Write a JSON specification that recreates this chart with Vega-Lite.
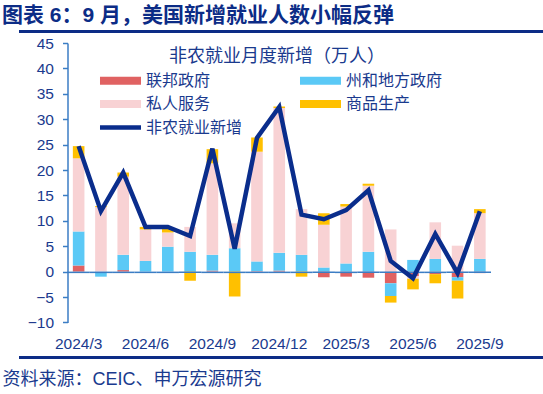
{
  "$schema": "https://vega.github.io/schema/vega-lite/v6.json",
  "width": 423.5,
  "height": 279.4,
  "autosize": {"type": "none"},
  "padding": {"left": 67.5, "top": 43, "right": 52, "bottom": 71.6},
  "background": "white",
  "config": {"view": {"stroke": null}, "font": "Liberation Sans, Noto Sans CJK SC"},
  "title": {
    "text": "图表 6：9 月，美国新增就业人数小幅反弹",
    "anchor": "start",
    "frame": "group",
    "dx": -65.5,
    "font": "Liberation Sans, Noto Sans CJK SC",
    "fontSize": 21,
    "fontWeight": "bold",
    "color": "#0c2c86",
    "offset": 10
  },
  "datasets": {
    "bars": [
      {"month": "2024/3", "sector": "联邦政府", "k": 1, "value": 1.2},
      {"month": "2024/3", "sector": "州和地方政府", "k": 2, "value": 6.7},
      {"month": "2024/3", "sector": "私人服务", "k": 3, "value": 14.4},
      {"month": "2024/3", "sector": "商品生产", "k": 4, "value": 2.4},
      {"month": "2024/4", "sector": "联邦政府", "k": 1, "value": 0.0},
      {"month": "2024/4", "sector": "州和地方政府", "k": 2, "value": -1.0},
      {"month": "2024/4", "sector": "私人服务", "k": 3, "value": 12.7},
      {"month": "2024/4", "sector": "商品生产", "k": 4, "value": 0.2},
      {"month": "2024/5", "sector": "联邦政府", "k": 1, "value": 0.3},
      {"month": "2024/5", "sector": "州和地方政府", "k": 2, "value": 3.0},
      {"month": "2024/5", "sector": "私人服务", "k": 3, "value": 15.4},
      {"month": "2024/5", "sector": "商品生产", "k": 4, "value": 0.8},
      {"month": "2024/6", "sector": "联邦政府", "k": 1, "value": 0.0},
      {"month": "2024/6", "sector": "州和地方政府", "k": 2, "value": 2.1},
      {"month": "2024/6", "sector": "私人服务", "k": 3, "value": 6.2},
      {"month": "2024/6", "sector": "商品生产", "k": 4, "value": 0.5},
      {"month": "2024/7", "sector": "联邦政府", "k": 1, "value": 0.0},
      {"month": "2024/7", "sector": "州和地方政府", "k": 2, "value": 4.9},
      {"month": "2024/7", "sector": "私人服务", "k": 3, "value": 2.8},
      {"month": "2024/7", "sector": "商品生产", "k": 4, "value": 0.8},
      {"month": "2024/8", "sector": "联邦政府", "k": 1, "value": 0.0},
      {"month": "2024/8", "sector": "州和地方政府", "k": 2, "value": 3.9},
      {"month": "2024/8", "sector": "私人服务", "k": 3, "value": 4.9},
      {"month": "2024/8", "sector": "商品生产", "k": 4, "value": -1.8},
      {"month": "2024/9", "sector": "联邦政府", "k": 1, "value": 0.2},
      {"month": "2024/9", "sector": "州和地方政府", "k": 2, "value": 3.1},
      {"month": "2024/9", "sector": "私人服务", "k": 3, "value": 18.0},
      {"month": "2024/9", "sector": "商品生产", "k": 4, "value": 2.8},
      {"month": "2024/10", "sector": "联邦政府", "k": 1, "value": 0.0},
      {"month": "2024/10", "sector": "州和地方政府", "k": 2, "value": 4.6},
      {"month": "2024/10", "sector": "私人服务", "k": 3, "value": 4.9},
      {"month": "2024/10", "sector": "商品生产", "k": 4, "value": -4.9},
      {"month": "2024/11", "sector": "联邦政府", "k": 1, "value": 0.1},
      {"month": "2024/11", "sector": "州和地方政府", "k": 2, "value": 1.9},
      {"month": "2024/11", "sector": "私人服务", "k": 3, "value": 21.6},
      {"month": "2024/11", "sector": "商品生产", "k": 4, "value": 2.8},
      {"month": "2024/12", "sector": "联邦政府", "k": 1, "value": 0.2},
      {"month": "2024/12", "sector": "州和地方政府", "k": 2, "value": 3.5},
      {"month": "2024/12", "sector": "私人服务", "k": 3, "value": 28.5},
      {"month": "2024/12", "sector": "商品生产", "k": 4, "value": 0.3},
      {"month": "2025/1", "sector": "联邦政府", "k": 1, "value": 0.0},
      {"month": "2025/1", "sector": "州和地方政府", "k": 2, "value": 3.3},
      {"month": "2025/1", "sector": "私人服务", "k": 3, "value": 9.0},
      {"month": "2025/1", "sector": "商品生产", "k": 4, "value": -1.0},
      {"month": "2025/2", "sector": "联邦政府", "k": 1, "value": -1.1},
      {"month": "2025/2", "sector": "州和地方政府", "k": 2, "value": 0.8},
      {"month": "2025/2", "sector": "私人服务", "k": 3, "value": 8.4},
      {"month": "2025/2", "sector": "商品生产", "k": 4, "value": 2.3},
      {"month": "2025/3", "sector": "联邦政府", "k": 1, "value": -1.0},
      {"month": "2025/3", "sector": "州和地方政府", "k": 2, "value": 1.6},
      {"month": "2025/3", "sector": "私人服务", "k": 3, "value": 11.2},
      {"month": "2025/3", "sector": "商品生产", "k": 4, "value": 0.5},
      {"month": "2025/4", "sector": "联邦政府", "k": 1, "value": -1.2},
      {"month": "2025/4", "sector": "州和地方政府", "k": 2, "value": 3.9},
      {"month": "2025/4", "sector": "私人服务", "k": 3, "value": 13.0},
      {"month": "2025/4", "sector": "商品生产", "k": 4, "value": 0.4},
      {"month": "2025/5", "sector": "联邦政府", "k": 1, "value": -2.3},
      {"month": "2025/5", "sector": "州和地方政府", "k": 2, "value": -2.5},
      {"month": "2025/5", "sector": "私人服务", "k": 3, "value": 8.3},
      {"month": "2025/5", "sector": "商品生产", "k": 4, "value": -1.3},
      {"month": "2025/6", "sector": "联邦政府", "k": 1, "value": -0.9},
      {"month": "2025/6", "sector": "州和地方政府", "k": 2, "value": 2.3},
      {"month": "2025/6", "sector": "私人服务", "k": 3, "value": -0.5},
      {"month": "2025/6", "sector": "商品生产", "k": 4, "value": -2.1},
      {"month": "2025/7", "sector": "联邦政府", "k": 1, "value": -0.5},
      {"month": "2025/7", "sector": "州和地方政府", "k": 2, "value": 2.5},
      {"month": "2025/7", "sector": "私人服务", "k": 3, "value": 7.2},
      {"month": "2025/7", "sector": "商品生产", "k": 4, "value": -1.8},
      {"month": "2025/8", "sector": "联邦政府", "k": 1, "value": -1.1},
      {"month": "2025/8", "sector": "州和地方政府", "k": 2, "value": -0.7},
      {"month": "2025/8", "sector": "私人服务", "k": 3, "value": 5.1},
      {"month": "2025/8", "sector": "商品生产", "k": 4, "value": -3.5},
      {"month": "2025/9", "sector": "联邦政府", "k": 1, "value": -0.3},
      {"month": "2025/9", "sector": "州和地方政府", "k": 2, "value": 2.5},
      {"month": "2025/9", "sector": "私人服务", "k": 3, "value": 9.0},
      {"month": "2025/9", "sector": "商品生产", "k": 4, "value": 0.8}
    ],
    "line": [
      {"month": "2024/3", "total": 24.7},
      {"month": "2024/4", "total": 11.9},
      {"month": "2024/5", "total": 19.5},
      {"month": "2024/6", "total": 8.8},
      {"month": "2024/7", "total": 8.8},
      {"month": "2024/8", "total": 7.0},
      {"month": "2024/9", "total": 24.2},
      {"month": "2024/10", "total": 4.5},
      {"month": "2024/11", "total": 26.3},
      {"month": "2024/12", "total": 32.4},
      {"month": "2025/1", "total": 11.2},
      {"month": "2025/2", "total": 10.3},
      {"month": "2025/3", "total": 12.1},
      {"month": "2025/4", "total": 16.0},
      {"month": "2025/5", "total": 2.1},
      {"month": "2025/6", "total": -1.3},
      {"month": "2025/7", "total": 7.4},
      {"month": "2025/8", "total": -0.3},
      {"month": "2025/9", "total": 11.9}
    ]
  },
  "layer": [
    {
      "layer": [
        {
          "data": {"name": "bars"},
          "mark": {"type": "bar", "width": {"band": 0.52}},
          "encoding": {
            "x": {
              "field": "month",
              "type": "ordinal",
              "sort": null,
              "scale": {"paddingInner": 0, "paddingOuter": 0},
              "axis": {
                "orient": "bottom",
                "values": ["2024/3", "2024/6", "2024/9", "2024/12", "2025/3", "2025/6", "2025/9"],
                "labelAngle": 0,
                "labelPadding": 13.8,
                "labelOverlap": false,
                "labelFont": "Liberation Sans",
                "labelFontSize": 15.5,
                "labelColor": "#1a3a8e",
                "domain": false,
                "ticks": false,
                "grid": false,
                "title": "资料来源：CEIC、申万宏源研究",
                "titleX": -65.5,
                "titleAlign": "left",
                "titleAnchor": "start",
                "titleBaseline": "top",
                "titlePadding": 19,
                "titleFont": "Liberation Sans, Noto Sans CJK SC",
                "titleFontSize": 18,
                "titleFontWeight": "normal",
                "titleColor": "#1a3a8e"
              }
            },
            "y": {
              "field": "value",
              "type": "quantitative",
              "stack": "zero",
              "scale": {"domain": [-10, 45], "nice": false, "zero": false},
              "axis": {
                "orient": "left",
                "values": [-10, -5, 0, 5, 10, 15, 20, 25, 30, 35, 40, 45],
                "tickCount": 12,
                "labelOverlap": false,
                "labelFont": "Liberation Sans",
                "labelFontSize": 15.5,
                "labelColor": "#1a3a8e",
                "labelPadding": 9,
                "domain": true,
                "ticks": true,
                "tickSize": 5,
                "tickColor": "#3b7dc4",
                "tickWidth": 1.5,
                "domainColor": "#3b7dc4",
                "domainWidth": 1.5,
                "grid": false,
                "title": null
              }
            },
            "color": {
              "field": "sector",
              "type": "nominal",
              "scale": {
                "domain": ["联邦政府", "州和地方政府", "私人服务", "商品生产", "非农就业新增"],
                "range": ["#e06262", "#5bc9f6", "#f8d2d4", "#ffc000", "#0a2d8c"]
              },
              "legend": {
                "orient": "none",
                "legendX": 44.5,
                "legendY": 5,
                "columns": 2,
                "direction": "horizontal",
                "title": "非农就业月度新增（万人）",
                "titleFont": "Noto Sans CJK SC",
                "titleFontSize": 18,
                "titleFontWeight": "normal",
                "titleColor": "#1a3a8e",
                "titleAnchor": "middle",
                "titleLimit": 500,
                "titlePadding": 6,
                "labelFont": "Noto Sans CJK SC",
                "labelFontSize": 16,
                "labelColor": "#1a3a8e",
                "labelOffset": 17,
                "labelLimit": 200,
                "symbolType": "M-2.5,-0.49H2.5V0.49H-2.5Z",
                "symbolSize": 269,
                "symbolStrokeWidth": 0,
                "rowPadding": 6.5,
                "columnPadding": 56,
                "padding": 0,
                "encode": {
                  "symbols": {
                    "update": {
                      "fill": {"signal": "scale('color', datum.value)"},
                      "stroke": {"value": "transparent"},
                      "strokeWidth": {"value": 0},
                      "shape": {"signal": "datum.value === '非农就业新增' ? 'M-2.5,-0.27H2.5V0.27H-2.5Z' : 'M-2.5,-0.49H2.5V0.49H-2.5Z'"},
                      "opacity": {"value": 1}
                    }
                  }
                }
              }
            },
            "order": {"field": "k", "type": "quantitative", "sort": "ascending"}
          }
        },
        {
          "data": {"name": "line"},
          "mark": {"type": "bar", "color": "#3b7dc4", "width": {"band": 1}},
          "encoding": {
            "x": {"field": "month", "type": "ordinal", "sort": null},
            "y": {
              "datum": 0,
              "type": "quantitative",
              "axis": {"orient": "right", "labels": false, "ticks": false, "domain": false, "grid": false, "title": null}
            },
            "y2": {"datum": -0.3}
          }
        },
        {
          "data": {"name": "line"},
          "mark": {"type": "line", "strokeWidth": 4.5},
          "encoding": {
            "x": {"field": "month", "type": "ordinal", "sort": null},
            "y": {
              "field": "total",
              "type": "quantitative",
              "axis": {"orient": "right", "labels": false, "ticks": false, "domain": false, "grid": false, "title": null}
            },
            "color": {"datum": "非农就业新增"}
          }
        }
      ],
      "resolve": {"axis": {"y": "independent"}}
    },
    {
      "data": {"values": [{}]},
      "mark": {"type": "point", "opacity": 0},
      "encoding": {
        "x": {
          "datum": 0,
          "type": "quantitative",
          "scale": {"domain": [0, 1], "range": [-65.5, 472.5]},
          "axis": {"orient": "bottom", "domain": false, "ticks": false, "labels": false, "grid": false, "title": null}
        },
        "y": {
          "datum": 0,
          "type": "quantitative",
          "scale": {"domain": [0, 1], "range": [313.5, -12.5]},
          "axis": {
            "orient": "right",
            "domain": false,
            "ticks": false,
            "labels": false,
            "grid": true,
            "values": [0, 1],
            "gridColor": "#0c2c86",
            "gridWidth": 3,
            "gridOpacity": 1,
            "title": null
          }
        }
      }
    }
  ],
  "resolve": {
    "scale": {"x": "independent", "y": "independent"},
    "axis": {"x": "independent", "y": "independent"}
  }
}
